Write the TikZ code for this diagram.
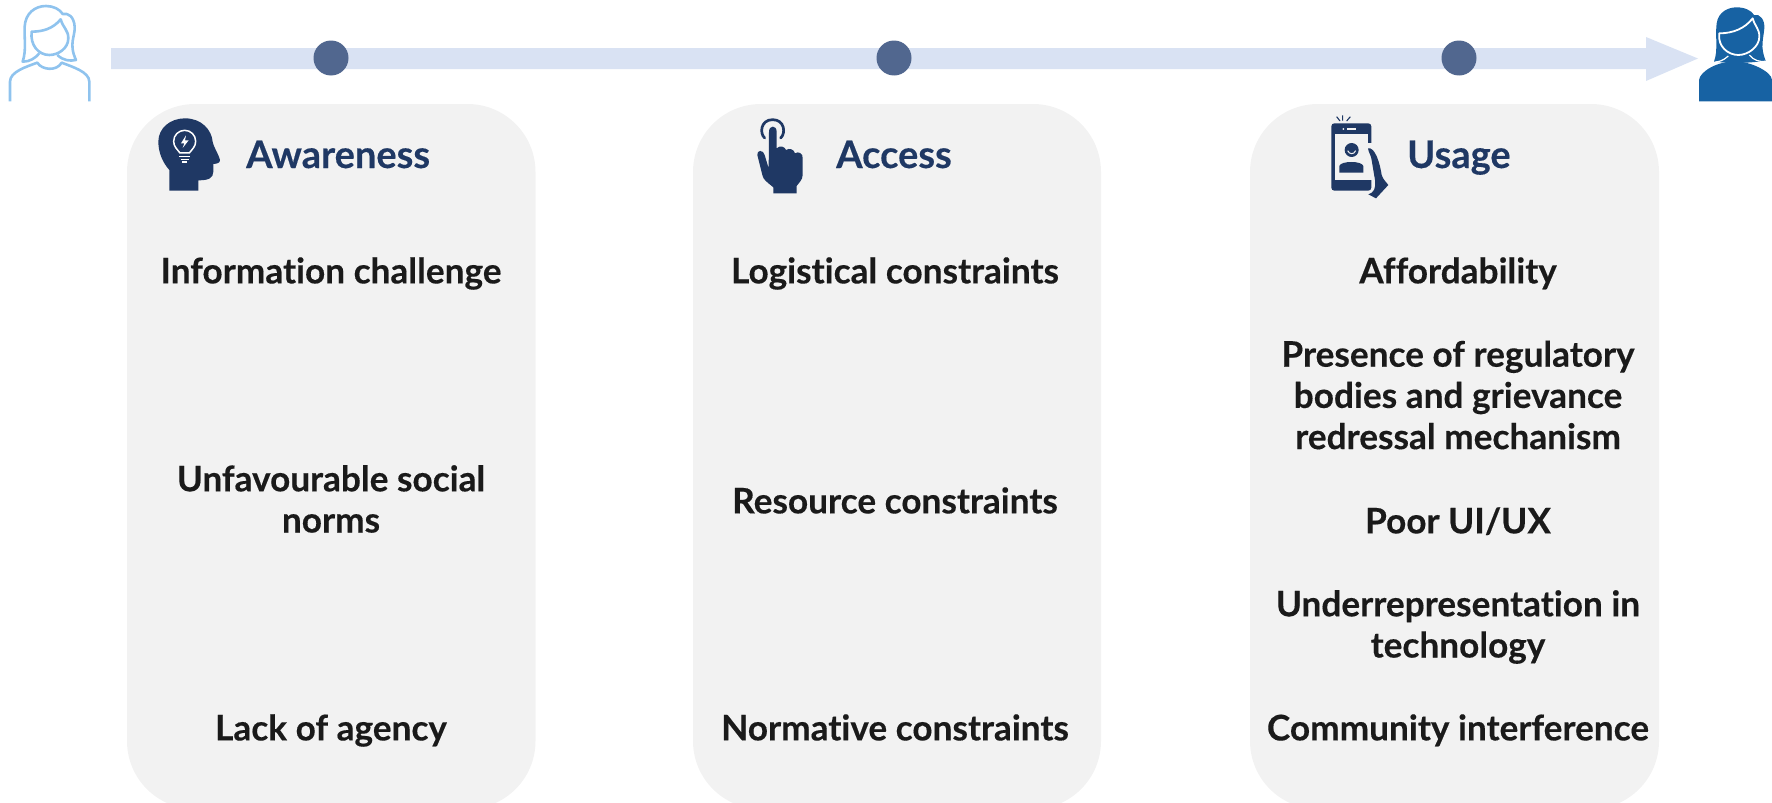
\documentclass[tikz,border=0pt]{standalone}
\usepackage{fontspec}
\setmainfont{Lato}[Ligatures=NoCommon,BoldFeatures={FakeBold=0.3}]
\definecolor{panel}{HTML}{F2F2F2}
\definecolor{navy}{HTML}{1F3864}
\definecolor{bartint}{HTML}{D9E2F3}
\definecolor{dotc}{HTML}{51678F}
\definecolor{ink}{HTML}{1A1A1A}
\definecolor{lightblue}{HTML}{8FC3EE}
\definecolor{midblue}{HTML}{1762A3}
\newcommand{\ls}{\vphantom{Ag}}
\tikzset{
  panelbox/.style={fill=panel,draw=none,rounded corners=68pt},
  itemtext/.style={font=\fontsize{35.2}{41.2}\selectfont\bfseries,text=ink,align=center,inner sep=0pt},
  headtext/.style={font=\fontsize{38}{44}\selectfont\bfseries,text=navy,anchor=base west,inner sep=0pt},
  dotnode/.style={circle,fill=dotc,draw=none,minimum size=35pt,inner sep=0pt},
  icon/.style={x=0.3333pt,y=-0.3333pt},
}
\begin{document}
\begin{tikzpicture}[x=1pt,y=-1pt]
\useasboundingbox (0,0) rectangle (1772,803);
\clip (0,0) rectangle (1772,803);
% panels
\fill[panelbox] (127,104) rectangle (535.5,809);
\fill[panelbox] (693,104) rectangle (1101,809);
\fill[panelbox] (1250,104) rectangle (1659,809);
% timeline
\fill[bartint] (111,48) -- (1646,48) -- (1646,37) -- (1698,58.5) -- (1646,81) -- (1646,69) -- (111,69) -- cycle;
\node[dotnode] (d1) at (331,58) {};
\node[dotnode] (d2) at (894,58) {};
\node[dotnode] (d3) at (1459,58) {};
% left person
\begin{scope}[icon,draw=lightblue,line width=2.6pt,line join=round,fill=none]
\draw (118,160) .. controls (105,175) and (90,185) .. (68,185) .. controls (80,150) and (72,110) .. (74,80) .. controls (76,40) and (105,18) .. (138,18) .. controls (160,18) and (180,28) .. (188,42) .. controls (205,38) and (222,50) .. (224,80) .. controls (226,110) and (205,130) .. (228,180) .. controls (210,184) and (190,182) .. (172,165);
\draw (95,95) .. controls (130,95) and (160,85) .. (182,58) .. controls (190,85) and (205,90) .. (205,115) .. controls (205,145) and (175,165) .. (148,165) .. controls (115,165) and (90,135) .. (95,95) -- cycle;
\draw (30,304) -- (30,245) .. controls (30,215) and (80,200) .. (112,188) .. controls (125,210) and (170,215) .. (185,188) .. controls (215,200) and (268,215) .. (268,245) -- (268,304);
\end{scope}
% right person
\begin{scope}[shift={(1600,0)},icon]
\fill[midblue] (342,185) .. controls (355,150) and (345,110) .. (350,70) .. controls (355,35) and (385,22) .. (410,22) .. controls (435,22) and (455,32) .. (462,45) .. controls (480,40) and (495,60) .. (493,85) .. controls (490,120) and (480,140) .. (497,182) .. controls (450,190) and (390,190) .. (342,185) -- cycle;
\fill[midblue] (297,304) -- (297,240) .. controls (300,215) and (350,184) .. (406,184) .. controls (450,184) and (516,215) .. (516,240) -- (516,304) -- cycle;
\draw[white,line width=1.8pt,line join=round,fill=midblue] (358,100) .. controls (400,100) and (435,85) .. (458,55) .. controls (465,80) and (478,85) .. (478,110) .. controls (478,140) and (445,165) .. (415,165) .. controls (385,165) and (352,140) .. (358,100) -- cycle;
\draw[white,line width=1.2pt] (345,186) .. controls (355,186) and (370,182) .. (385,168);
\draw[white,line width=1.2pt] (495,184) .. controls (480,186) and (462,182) .. (448,165);
\end{scope}
% head icon
\begin{scope}[shift={(140,100)},icon]
\fill[navy] (88,272) -- (88,210) .. controls (70,190) and (55,160) .. (55,125) .. controls (55,85) and (90,55) .. (135,55) .. controls (185,55) and (215,90) .. (218,125) .. controls (220,140) and (240,170) .. (240,182) .. controls (240,190) and (225,192) .. (220,192) -- (220,215) .. controls (220,235) and (205,241) .. (175,241) -- (175,272) -- cycle;
\draw[white,line width=1.5pt,line cap=round] (120,159) .. controls (112,148) and (101,140) .. (101,124) .. controls (101,105) and (116,91) .. (134,91) .. controls (152,91) and (167,105) .. (167,124) .. controls (167,140) and (156,148) .. (148,159) -- cycle;
\draw[white,line width=1.5pt] (118,169) -- (150,169) (122,178) -- (146,178);
\draw[white,line width=1.5pt] (127,186) -- (141,186);
\fill[white] (138,106) -- (123,130) -- (133,130) -- (128,144) -- (146,121) -- (135,121) -- cycle;
\end{scope}
% hand icon
\begin{scope}[shift={(730,100)},icon]
\draw[navy,line width=2.7pt,line cap=round] (104,114) .. controls (88,100) and (92,59) .. (128,59) .. controls (164,59) and (168,100) .. (152,114);
\fill[panel] (112,72) rectangle (145,100);
\fill[navy] (130,280) -- (130,262) .. controls (110,245) and (100,240) .. (97,225) -- (82,165) .. controls (80,150) and (100,148) .. (104,165) -- (116,205) -- (117,95) .. controls (117,75) and (140,75) .. (140,95) -- (140,145) .. controls (150,135) and (165,140) .. (168,150) .. controls (178,143) and (192,148) .. (195,160) .. controls (205,153) and (220,160) .. (218,175) -- (218,225) .. controls (218,240) and (205,250) .. (200,258) -- (200,280) -- cycle;
\end{scope}
% phone icon
\begin{scope}[shift={(1300,100)},icon]
\fill[navy,rounded corners=3pt] (94,70) rectangle (214,272);
\fill[panel] (104,102) rectangle (203,240);
\fill[panel] (204,130) rectangle (218,240);
\fill[navy] (204,145) .. controls (225,140) and (240,190) .. (245,225) .. controls (250,240) and (258,245) .. (265,255) -- (228,295) -- (205,283) .. controls (222,278) and (228,265) .. (225,240) -- (214,175) .. controls (212,165) and (205,155) .. (204,145) -- cycle;
\fill[navy] (155,150) circle[radius=21];
\draw[panel,line width=1pt] (143,152) .. controls (148,164) and (162,164) .. (167,152);
\fill[navy] (118,218) -- (118,198) .. controls (122,182) and (186,182) .. (190,198) -- (190,218) -- cycle;
\fill[panel] (130,87) circle[radius=3];
\fill[panel] (142,83) rectangle (167,91);
\draw[navy,line width=1.1pt] (128,46) -- (128,62) (110,50) -- (120,63) (151,50) -- (140,63);
\end{scope}
% headings
\node[headtext] (h1) at (246,168) {Awareness};
\node[headtext] (h2) at (836,168) {Access};
\node[headtext] (h3) at (1407,168) {Usage};
% items
\node[itemtext] (a1) at (331,273.5) {\ls Information challenge};
\node[itemtext] (a2) at (331,502) {\ls Unfavourable social\\\ls norms};
\node[itemtext] (a3) at (331,730.5) {\ls Lack of agency};
\node[itemtext] (b1) at (895,273.5) {\ls Logistical constraints};
\node[itemtext] (b2) at (895,503.5) {\ls Resource constraints};
\node[itemtext] (b3) at (895,730.5) {\ls Normative constraints};
\node[itemtext] (c1) at (1458,273.5) {\ls Affordability};
\node[itemtext] (c2) at (1458,398) {\ls Presence of regulatory\\\ls bodies and grievance\\\ls redressal mechanism};
\node[itemtext] (c3) at (1458,523.5) {\ls Poor UI/UX};
\node[itemtext] (c4) at (1458,627) {\ls Underrepresentation in\\\ls technology};
\node[itemtext] (c5) at (1458,730.5) {\ls Community interference};
\end{tikzpicture}
\end{document}
